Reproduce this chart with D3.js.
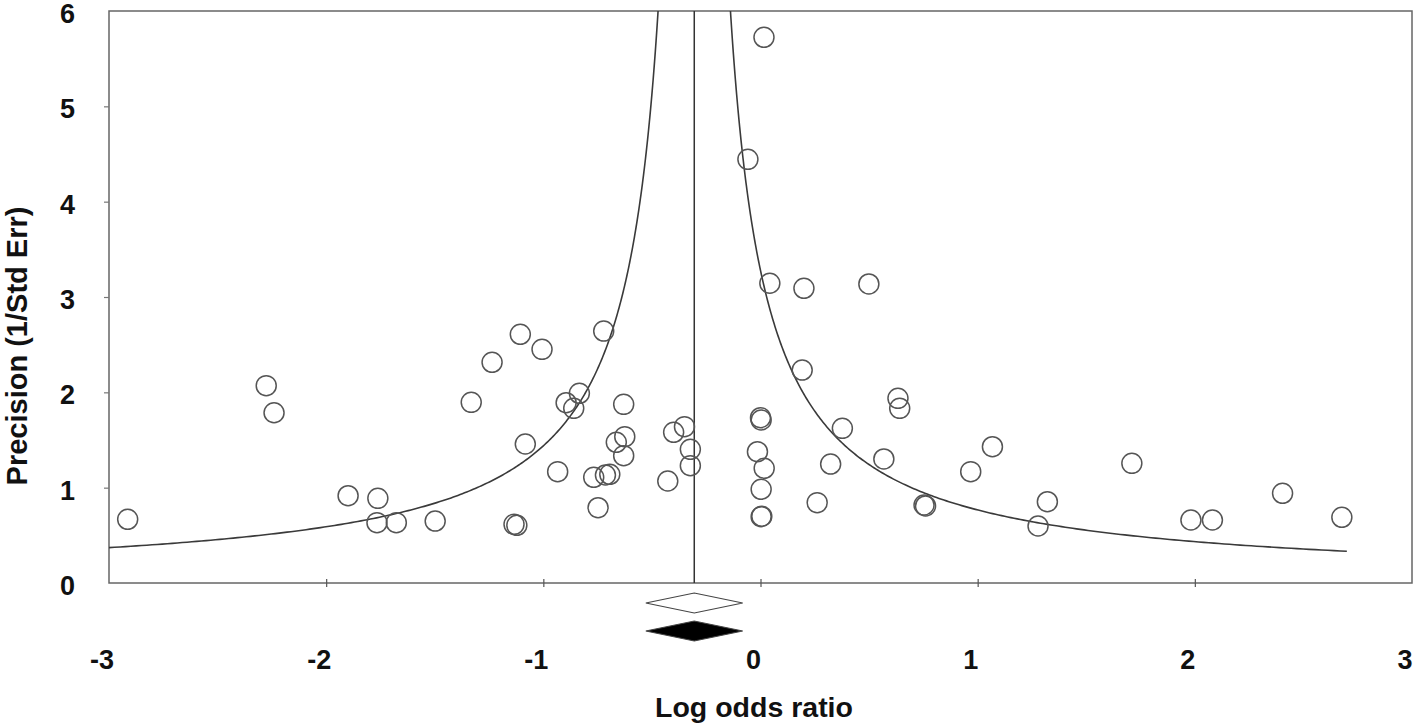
<!DOCTYPE html>
<html>
<head>
<meta charset="utf-8">
<script src="https://cdn.jsdelivr.net/npm/d3@7/dist/d3.min.js"></script>
<style>
  body { margin: 0; background: #fff; }
  text { font-family: "Liberation Sans", Arial, sans-serif; font-weight: bold; fill: #111; }
</style>
</head>
<body>
<div id="plot"></div>
<script>
// funnel plot: log odds ratio vs precision

const logOdds = [
  -2.914, -2.276, -2.240, -1.899, -1.762, -1.766, -1.677, -1.498, -1.135, -1.122,
  -1.106, -1.006, -1.236, -1.332, -0.722, -0.834, -0.895, -0.860, -0.630, -1.083,
  -0.625, -0.664, -0.630, -0.934, -0.768, -0.714, -0.694, -0.748, -0.400, -0.350,
  -0.323, -0.323, -0.427,
  0.016, -0.058, 0.043, 0.200, 0.499, 0.192, 0.633, 0.641, 0.003, 0.000,
  0.377, -0.014, 0.017, 0.323, 0.568, 1.068, 0.968, 0.003, 0.261, 0.760,
  0.753, 0.003, 0.006, 1.321, 1.278, 1.710, 1.982, 2.081, 2.404, 2.677
];
const precision = [
  0.668, 2.070, 1.786, 0.916, 0.888, 0.633, 0.633, 0.650, 0.615, 0.605,
  2.609, 2.451, 2.315, 1.895, 2.643, 1.990, 1.891, 1.832, 1.874, 1.458,
  1.535, 1.476, 1.336, 1.168, 1.109, 1.133, 1.140, 0.790, 1.581, 1.640,
  1.402, 1.231, 1.070,
  5.724, 4.444, 3.144, 3.091, 3.137, 2.234, 1.937, 1.832, 1.710, 1.734,
  1.622, 1.377, 1.203, 1.248, 1.301, 1.430, 1.168, 0.983, 0.843, 0.808,
  0.818, 0.696, 0.700, 0.853, 0.598, 1.255, 0.661, 0.661, 0.941, 0.689
];

const xTicks = [-3, -2, -1, 0, 1, 2, 3];
const yTicks = [0, 1, 2, 3, 4, 5, 6];

// pooled estimate and its interval (open = observed, filled = adjusted)
const pooled = -0.305;
const diamonds = [
  { lo: -0.528, mid: -0.305, hi: -0.082, fill: "#fff" },
  { lo: -0.528, mid: -0.305, hi: -0.082, fill: "#000" }
];
const funnelK = 1.0;      // half-width * precision
const funnelLeftEnd = -3;
const funnelRightEnd = 2.7;

(function(){
  const W = 1418, H = 726;
  const m = { left: 109, right: 1412, top: 11, bottom: 583 };

  const svg = d3.select("#plot").append("svg").attr("width", W).attr("height", H);

  const x = d3.scaleLinear().domain([-3, 3]).range([m.left, m.right]);
  const y = d3.scaleLinear().domain([0, 6]).range([m.bottom, m.top]);

  svg.append("defs").append("clipPath").attr("id", "clip")
    .append("rect").attr("x", m.left).attr("y", m.top)
    .attr("width", m.right - m.left).attr("height", m.bottom - m.top);

  // frame
  svg.append("rect")
    .attr("x", m.left).attr("y", m.top).attr("width", m.right - m.left).attr("height", m.bottom - m.top)
    .attr("fill", "none").attr("stroke", "#666").attr("stroke-width", 1.5);

  // ticks
  svg.append("g").attr("transform", `translate(0,${m.bottom - 4})`)
    .call(d3.axisBottom(x).tickValues([-2, -1, 0, 1, 2]).tickSize(8).tickFormat(""))
    .call(g => g.select(".domain").remove())
    .call(g => g.selectAll("line").attr("stroke", "#555").attr("stroke-width", 1.2));

  svg.append("g").attr("transform", `translate(${m.left},0)`)
    .call(d3.axisLeft(y).tickValues([1, 2, 3, 4, 5]).tickSize(5).tickFormat(""))
    .call(g => g.select(".domain").remove())
    .call(g => g.selectAll("line").attr("stroke", "#777").attr("stroke-width", 1.2));

  // tick labels
  svg.append("g").selectAll("text").data(xTicks).join("text")
    .attr("x", d => x(d) - 7).attr("y", 669)
    .attr("text-anchor", "middle").attr("font-size", 27)
    .text(d => d);

  svg.append("g").selectAll("text").data(yTicks).join("text")
    .attr("x", 75).attr("y", d => y(d) + 12)
    .attr("text-anchor", "end").attr("font-size", 27)
    .text(d => d);

  // axis titles
  svg.append("text").attr("x", 754).attr("y", 717)
    .attr("text-anchor", "middle").attr("font-size", 28.5)
    .text("Log odds ratio");

  svg.append("text")
    .attr("transform", "translate(27,346) rotate(-90)")
    .attr("text-anchor", "middle").attr("font-size", 29)
    .text("Precision (1/Std Err)");

  // funnel curves, from the plot edge up to the top
  const line = d3.line().x(d => x(d[0])).y(d => y(d[1]));
  const pLeft = funnelK / (pooled - funnelLeftEnd);
  const pRight = funnelK / (funnelRightEnd - pooled);
  const steps = (p0) => d3.range(0, 301).map(i => p0 * Math.pow(6.5 / p0, i / 300));
  const leftCurve = steps(pLeft).map(p => [pooled - funnelK / p, p]);
  const rightCurve = steps(pRight).map(p => [pooled + funnelK / p, p]);

  const curves = svg.append("g").attr("clip-path", "url(#clip)");
  [leftCurve, rightCurve].forEach(c => {
    curves.append("path").attr("d", line(c))
      .attr("fill", "none").attr("stroke", "#3a3a3a").attr("stroke-width", 1.6);
  });

  // pooled estimate line
  svg.append("line")
    .attr("x1", x(pooled)).attr("x2", x(pooled))
    .attr("y1", y(6)).attr("y2", y(0))
    .attr("stroke", "#333").attr("stroke-width", 1.5);

  // studies
  svg.append("g").selectAll("circle").data(logOdds).join("circle")
    .attr("cx", d => x(d)).attr("cy", (d, i) => y(precision[i]))
    .attr("r", 10)
    .attr("fill", "none").attr("stroke", "#555").attr("stroke-width", 1.5);

  // diamonds
  const diamondY = [603, 631];
  svg.append("g").selectAll("path").data(diamonds).join("path")
    .attr("d", (d, i) => {
      const cy = diamondY[i];
      return `M${x(d.lo)},${cy}L${x(d.mid)},${cy - 10}L${x(d.hi)},${cy}L${x(d.mid)},${cy + 10}Z`;
    })
    .attr("fill", d => d.fill).attr("stroke", "#444").attr("stroke-width", 1.2);
})();
</script>
</body>
</html>
